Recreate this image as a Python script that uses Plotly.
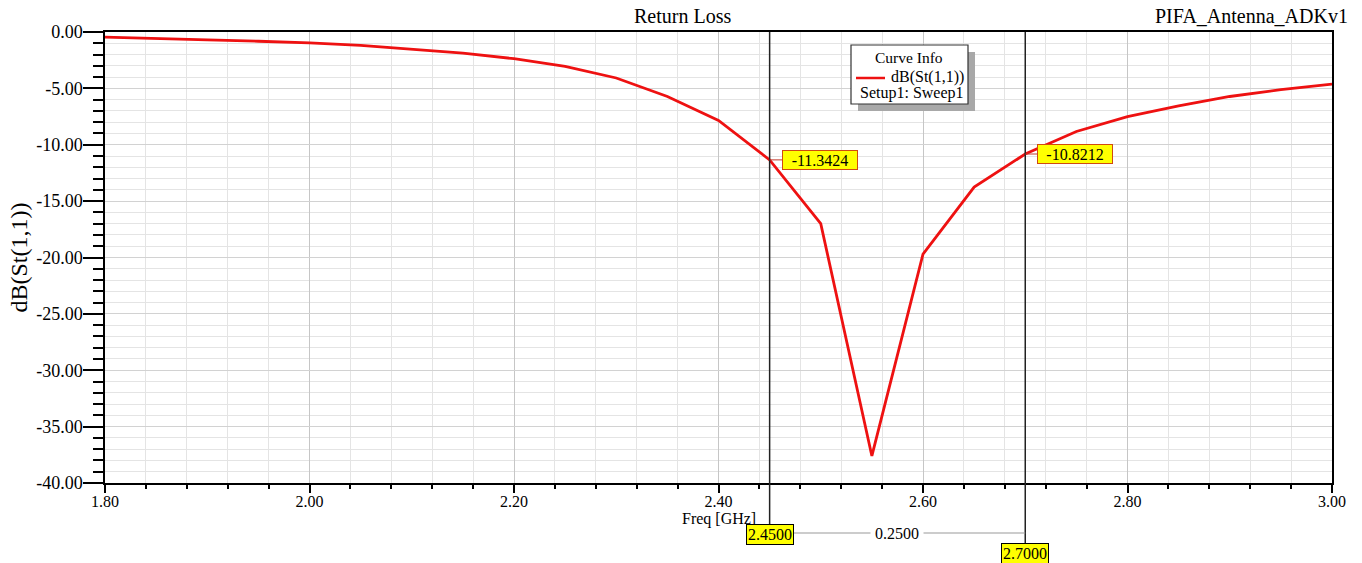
import plotly.graph_objects as go

# ---------------- data ----------------
freq_ghz = [1.80, 1.85, 1.90, 1.95, 2.00, 2.05, 2.10, 2.15, 2.20, 2.25, 2.30, 2.35, 2.40,
            2.45, 2.50, 2.55, 2.60, 2.65, 2.70, 2.75, 2.80, 2.85, 2.90, 2.95, 3.00]
s11_db = [-0.45, -0.60, -0.70, -0.82, -0.97, -1.19, -1.51, -1.87, -2.37, -3.05, -4.08, -5.72, -7.85,
          -11.3424, -17.0, -37.6, -19.7, -13.75, -10.8212, -8.82, -7.50, -6.55, -5.72, -5.12, -4.62]

marker_freqs = [2.45, 2.70]
marker_vals = [-11.3424, -10.8212]

x_tickvals = [1.80, 2.00, 2.20, 2.40, 2.60, 2.80, 3.00]
x_ticktext = ["1.80", "2.00", "2.20", "2.40", "2.60", "2.80", "3.00"]
y_tickvals = [0, -5, -10, -15, -20, -25, -30, -35, -40]
y_ticktext = ["0.00", "-5.00", "-10.00", "-15.00", "-20.00", "-25.00", "-30.00", "-35.00", "-40.00"]

title_text = "Return Loss"
design_text = "PIFA_Antenna_ADKv1"
trace_name = "dB(St(1,1))"
sweep_name = "Setup1: Sweep1"

FONT = "Liberation Serif, Times New Roman, serif"
RED = "#ee1111"

# layout geometry (pixels)
W, H = 1362, 563
ML, MR, MT, MB = 105, 30, 32, 80
PW, PH = W - ML - MR, H - MT - MB


def px(xpix):
    return (xpix - ML) / PW


def py(ypix):
    return (H - MB - ypix) / PH


fig = go.Figure()
fig.add_trace(go.Scatter(x=freq_ghz, y=s11_db, mode="lines", name=trace_name,
                         line=dict(color=RED, width=2.8), showlegend=False))

fig.update_layout(
    width=W, height=H,
    margin=dict(l=ML, r=MR, t=MT, b=MB),
    paper_bgcolor="white", plot_bgcolor="white",
    font=dict(family=FONT, color="black"),
    showlegend=False,
)

fig.update_xaxes(
    range=[1.8, 3.0], tickvals=x_tickvals, ticktext=x_ticktext,
    tickfont=dict(size=16, family=FONT),
    ticks="outside", ticklen=8, tickcolor="black", tickwidth=1.5,
    ticklabelstandoff=-5,
    showline=True, linecolor="black", linewidth=1.5, mirror=True,
    showgrid=True, gridcolor="#c6c6c6", gridwidth=1,
    minor=dict(dtick=0.04, tick0=1.8, ticks="outside", ticklen=4, tickcolor="black",
               showgrid=True, gridcolor="#e4e4e4", gridwidth=1),
    zeroline=False,
)
fig.update_yaxes(
    range=[-40, 0], tickvals=y_tickvals, ticktext=y_ticktext,
    tickfont=dict(size=18, family=FONT),
    ticks="outside", ticklen=20, tickcolor="black", tickwidth=1.5,
    ticklabelstandoff=-3,
    showline=True, linecolor="black", linewidth=1.5, mirror=True,
    showgrid=True, gridcolor="#d2d2d2", gridwidth=1,
    minor=dict(dtick=1, tick0=0, ticks="outside", ticklen=10, tickcolor="black",
               showgrid=True, gridcolor="#e4e4e4", gridwidth=1),
    zeroline=False,
)

annotations = []
shapes = []

# titles
annotations.append(dict(text=title_text, xref="paper", yref="paper", x=px(682), y=py(16),
                        showarrow=False, font=dict(size=20, family=FONT), xanchor="center", yanchor="middle"))
annotations.append(dict(text=design_text, xref="paper", yref="paper", x=px(1350), y=py(16),
                        showarrow=False, font=dict(size=20, family=FONT), xanchor="right", yanchor="middle"))
annotations.append(dict(text="Freq [GHz]", xref="paper", yref="paper", x=0.5, y=py(508),
                        showarrow=False, font=dict(size=16, family=FONT), xanchor="center", yanchor="top"))
annotations.append(dict(text=trace_name, xref="paper", yref="paper", x=px(18), y=0.5,
                        showarrow=False, textangle=-90, font=dict(size=24, family=FONT),
                        xanchor="center", yanchor="middle"))

# marker lines and readouts
bottom_pix = [525, 544]
for i, (mf, mv) in enumerate(zip(marker_freqs, marker_vals)):
    shapes.append(dict(type="line", xref="x", yref="paper", x0=mf, x1=mf,
                       y0=py(bottom_pix[i]), y1=1, line=dict(color="#222222", width=1.5)))
    annotations.append(dict(text=f"{mv:.4f}", xref="x", yref="y", x=mf, y=mv,
                            showarrow=True, arrowhead=0, arrowcolor="#c0392b", arrowwidth=1,
                            ax=50, ay=0, width=72, height=16,
                            bgcolor="#ffff00", bordercolor="#d04a10", borderwidth=1, borderpad=1,
                            font=dict(size=16, family=FONT)))
    annotations.append(dict(text=f"{mf:.4f}", xref="x", yref="paper", x=mf,
                            y=py(bottom_pix[i] + 9.5), showarrow=False,
                            bgcolor="#ffff00", bordercolor="black", borderwidth=1, borderpad=1,
                            font=dict(size=16, family=FONT), xanchor="center", yanchor="middle"))

# delta line between markers
shapes.append(dict(type="line", xref="x", yref="paper", x0=marker_freqs[0], x1=marker_freqs[1],
                   y0=py(533), y1=py(533), line=dict(color="#999999", width=1)))
annotations.append(dict(text=f"{marker_freqs[1] - marker_freqs[0]:.4f}", xref="x", yref="paper",
                        x=(marker_freqs[0] + marker_freqs[1]) / 2, y=py(533), showarrow=False,
                        bgcolor="white", borderpad=4, font=dict(size=16, family=FONT),
                        xanchor="center", yanchor="middle"))

# Curve Info box (with shadow)
shapes.append(dict(type="rect", xref="paper", yref="paper", x0=px(858), x1=px(975),
                   y0=py(111), y1=py(52), fillcolor="#a8a8a8", line=dict(width=0)))
shapes.append(dict(type="rect", xref="paper", yref="paper", x0=px(851), x1=px(968),
                   y0=py(104), y1=py(45), fillcolor="white", line=dict(color="#333333", width=1.2)))
shapes.append(dict(type="line", xref="paper", yref="paper", x0=px(856), x1=px(885),
                   y0=py(78), y1=py(78), line=dict(color=RED, width=2.5)))
annotations.append(dict(text="Curve Info", xref="paper", yref="paper", x=px(909), y=py(57),
                        showarrow=False, font=dict(size=15.5, family=FONT), xanchor="center", yanchor="middle"))
annotations.append(dict(text=trace_name, xref="paper", yref="paper", x=px(966), y=py(77),
                        showarrow=False, font=dict(size=16, family=FONT), xanchor="right", yanchor="middle"))
annotations.append(dict(text=sweep_name, xref="paper", yref="paper", x=px(966), y=py(93),
                        showarrow=False, font=dict(size=16, family=FONT), xanchor="right", yanchor="middle"))

fig.update_layout(annotations=annotations, shapes=shapes)
fig.write_html("out.html")
